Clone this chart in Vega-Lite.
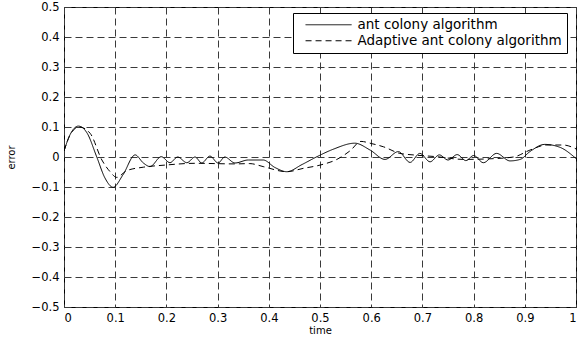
{
  "$schema": "https://vega.github.io/schema/vega-lite/v6.json",
  "width": 512,
  "height": 300,
  "autosize": {"type": "none"},
  "padding": {"left": 64, "top": 7, "right": 6, "bottom": 31},
  "background": "white",
  "config": {
    "font": "DejaVu Sans",
    "view": {"stroke": "black", "strokeWidth": 1},
    "axis": {
      "domain": false,
      "grid": true,
      "gridColor": "#3a3a3a",
      "gridDash": [7, 4],
      "gridOpacity": 1,
      "gridWidth": 1,
      "tickColor": "black",
      "labelColor": "black",
      "labelFontSize": 11.5,
      "labelFont": "DejaVu Sans",
      "titleFont": "DejaVu Sans",
      "titleFontSize": 10,
      "titleFontWeight": "normal",
      "titleColor": "black"
    }
  },
  "data": {
    "values": [
      {"s": "ant colony algorithm", "t": 0.0, "e": 0.02},
      {"s": "ant colony algorithm", "t": 0.012, "e": 0.075},
      {"s": "ant colony algorithm", "t": 0.028, "e": 0.103},
      {"s": "ant colony algorithm", "t": 0.045, "e": 0.08},
      {"s": "ant colony algorithm", "t": 0.064, "e": 0.0},
      {"s": "ant colony algorithm", "t": 0.08, "e": -0.07},
      {"s": "ant colony algorithm", "t": 0.096, "e": -0.101},
      {"s": "ant colony algorithm", "t": 0.115, "e": -0.06},
      {"s": "ant colony algorithm", "t": 0.139, "e": 0.007},
      {"s": "ant colony algorithm", "t": 0.155, "e": -0.02},
      {"s": "ant colony algorithm", "t": 0.168, "e": -0.032},
      {"s": "ant colony algorithm", "t": 0.19, "e": 0.001},
      {"s": "ant colony algorithm", "t": 0.207, "e": -0.019},
      {"s": "ant colony algorithm", "t": 0.222, "e": 0.0},
      {"s": "ant colony algorithm", "t": 0.24, "e": -0.019},
      {"s": "ant colony algorithm", "t": 0.256, "e": 0.0},
      {"s": "ant colony algorithm", "t": 0.269, "e": -0.02},
      {"s": "ant colony algorithm", "t": 0.285, "e": 0.003},
      {"s": "ant colony algorithm", "t": 0.301, "e": -0.02},
      {"s": "ant colony algorithm", "t": 0.314, "e": 0.0},
      {"s": "ant colony algorithm", "t": 0.334, "e": -0.02},
      {"s": "ant colony algorithm", "t": 0.36, "e": -0.01},
      {"s": "ant colony algorithm", "t": 0.389, "e": -0.01},
      {"s": "ant colony algorithm", "t": 0.412, "e": -0.035},
      {"s": "ant colony algorithm", "t": 0.435, "e": -0.049},
      {"s": "ant colony algorithm", "t": 0.465, "e": -0.025},
      {"s": "ant colony algorithm", "t": 0.494, "e": 0.001},
      {"s": "ant colony algorithm", "t": 0.526, "e": 0.026},
      {"s": "ant colony algorithm", "t": 0.568, "e": 0.046},
      {"s": "ant colony algorithm", "t": 0.598, "e": 0.023},
      {"s": "ant colony algorithm", "t": 0.627, "e": -0.008},
      {"s": "ant colony algorithm", "t": 0.653, "e": 0.018},
      {"s": "ant colony algorithm", "t": 0.676, "e": -0.018},
      {"s": "ant colony algorithm", "t": 0.695, "e": 0.012},
      {"s": "ant colony algorithm", "t": 0.715, "e": -0.016},
      {"s": "ant colony algorithm", "t": 0.733, "e": 0.007},
      {"s": "ant colony algorithm", "t": 0.75, "e": -0.01},
      {"s": "ant colony algorithm", "t": 0.768, "e": 0.008},
      {"s": "ant colony algorithm", "t": 0.785, "e": -0.012},
      {"s": "ant colony algorithm", "t": 0.8, "e": 0.005},
      {"s": "ant colony algorithm", "t": 0.819, "e": -0.019},
      {"s": "ant colony algorithm", "t": 0.845, "e": 0.012},
      {"s": "ant colony algorithm", "t": 0.871, "e": -0.013},
      {"s": "ant colony algorithm", "t": 0.891, "e": -0.008},
      {"s": "ant colony algorithm", "t": 0.91, "e": 0.018},
      {"s": "ant colony algorithm", "t": 0.939, "e": 0.042},
      {"s": "ant colony algorithm", "t": 0.969, "e": 0.032},
      {"s": "ant colony algorithm", "t": 1.0, "e": -0.005},
      {"s": "Adaptive ant colony algorithm", "t": 0.0, "e": 0.02},
      {"s": "Adaptive ant colony algorithm", "t": 0.014, "e": 0.08},
      {"s": "Adaptive ant colony algorithm", "t": 0.03, "e": 0.1},
      {"s": "Adaptive ant colony algorithm", "t": 0.051, "e": 0.079},
      {"s": "Adaptive ant colony algorithm", "t": 0.074, "e": -0.01},
      {"s": "Adaptive ant colony algorithm", "t": 0.09, "e": -0.049},
      {"s": "Adaptive ant colony algorithm", "t": 0.103, "e": -0.068},
      {"s": "Adaptive ant colony algorithm", "t": 0.122, "e": -0.046},
      {"s": "Adaptive ant colony algorithm", "t": 0.155, "e": -0.034},
      {"s": "Adaptive ant colony algorithm", "t": 0.197, "e": -0.027},
      {"s": "Adaptive ant colony algorithm", "t": 0.256, "e": -0.021},
      {"s": "Adaptive ant colony algorithm", "t": 0.334, "e": -0.023},
      {"s": "Adaptive ant colony algorithm", "t": 0.363, "e": -0.022},
      {"s": "Adaptive ant colony algorithm", "t": 0.389, "e": -0.032},
      {"s": "Adaptive ant colony algorithm", "t": 0.435, "e": -0.049},
      {"s": "Adaptive ant colony algorithm", "t": 0.467, "e": -0.038},
      {"s": "Adaptive ant colony algorithm", "t": 0.5, "e": -0.027},
      {"s": "Adaptive ant colony algorithm", "t": 0.533, "e": -0.008},
      {"s": "Adaptive ant colony algorithm", "t": 0.559, "e": 0.021},
      {"s": "Adaptive ant colony algorithm", "t": 0.58, "e": 0.052},
      {"s": "Adaptive ant colony algorithm", "t": 0.6, "e": 0.045},
      {"s": "Adaptive ant colony algorithm", "t": 0.624, "e": 0.034},
      {"s": "Adaptive ant colony algorithm", "t": 0.656, "e": 0.012},
      {"s": "Adaptive ant colony algorithm", "t": 0.682, "e": 0.007},
      {"s": "Adaptive ant colony algorithm", "t": 0.728, "e": 0.001},
      {"s": "Adaptive ant colony algorithm", "t": 0.78, "e": -0.008},
      {"s": "Adaptive ant colony algorithm", "t": 0.832, "e": -0.006},
      {"s": "Adaptive ant colony algorithm", "t": 0.878, "e": 0.0},
      {"s": "Adaptive ant colony algorithm", "t": 0.91, "e": 0.023},
      {"s": "Adaptive ant colony algorithm", "t": 0.943, "e": 0.04},
      {"s": "Adaptive ant colony algorithm", "t": 0.975, "e": 0.04},
      {"s": "Adaptive ant colony algorithm", "t": 1.0, "e": 0.027}
    ]
  },
  "mark": {"type": "line", "color": "black", "strokeWidth": 1, "interpolate": "monotone", "clip": true},
  "encoding": {
    "x": {
      "field": "t", "type": "quantitative",
      "scale": {"domain": [0, 1], "nice": false, "zero": false},
      "axis": {"title": "time", "values": [0, 0.1, 0.2, 0.3, 0.4, 0.5, 0.6, 0.7, 0.8, 0.9, 1], "format": "~g", "labelPadding": 5, "titlePadding": 2, "tickSize": 0}
    },
    "y": {
      "field": "e", "type": "quantitative",
      "scale": {"domain": [-0.5, 0.5], "nice": false, "zero": false},
      "axis": {"title": "error", "values": [-0.5, -0.4, -0.3, -0.2, -0.1, 0, 0.1, 0.2, 0.3, 0.4, 0.5], "format": "~g", "labelPadding": 5, "titlePadding": 15, "tickSize": 0}
    },
    "strokeDash": {
      "field": "s", "type": "nominal",
      "scale": {"domain": ["ant colony algorithm", "Adaptive ant colony algorithm"], "range": [[1, 0], [6, 4]]},
      "legend": {
        "title": null,
        "orient": "none",
        "legendX": 229,
        "legendY": 6,
        "strokeColor": "black",
        "fillColor": "white",
        "padding": 5,
        "symbolType": "M0.2,0H11.7",
        "symbolSize": 64,
        "symbolStrokeWidth": 1,
        "symbolStrokeColor": "black",
        "symbolFillColor": "transparent",
        "labelFontSize": 13.5,
        "labelLimit": 300,
        "labelColor": "black",
        "labelFont": "DejaVu Sans",
        "rowPadding": 1,
        "labelOffset": 46,
        "cornerRadius": 0
      }
    }
  }
}
